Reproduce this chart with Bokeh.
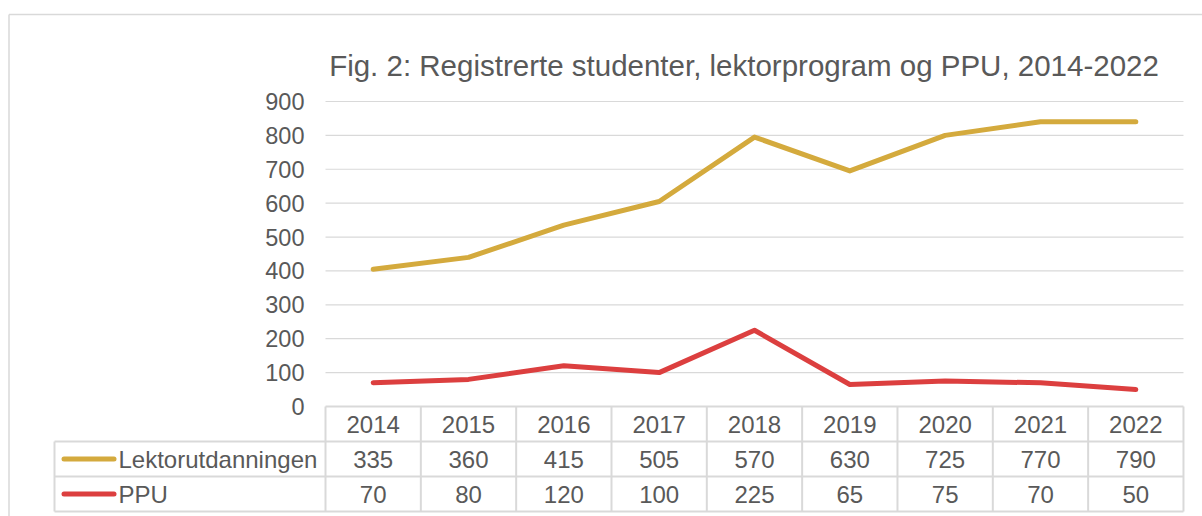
import numpy as np
from bokeh.plotting import figure
from bokeh.models import Range1d
from bokeh.core.properties import value
from bokeh.embed import file_html
from bokeh.resources import INLINE

# ---------------- data ----------------
years = ["2014", "2015", "2016", "2017", "2018", "2019", "2020", "2021", "2022"]
lektor = [335, 360, 415, 505, 570, 630, 725, 770, 790]
ppu = [70, 80, 120, 100, 225, 65, 75, 70, 50]
series_names = ["Lektorutdanningen", "PPU"]
y_ticks = [0, 100, 200, 300, 400, 500, 600, 700, 800, 900]
title_text = "Fig. 2: Registrerte studenter, lektorprogram og PPU, 2014-2022"

# ---------------- styles / layout ----------------
GOLD = "#D4AA3D"
RED = "#DC3F3F"
TXT = "#595959"
GRID = "#D9D9D9"
FONT = value("Liberation Sans")

W, H = 1202, 516
COL_PX = 95.33          # px per category column
UNIT_PX = 0.3389        # px per value unit
ORIGIN_X = 325          # canvas px of left edge of first column
ORIGIN_Y = 406          # canvas px of value 0


def dx(px):
    return (px - ORIGIN_X) / COL_PX


def dy(py):
    return (ORIGIN_Y - py) / UNIT_PX


p = figure(width=W, height=H, output_backend="svg", toolbar_location=None,
           x_range=Range1d(dx(0), dx(W)), y_range=Range1d(dy(H), dy(0)),
           x_axis_type=None, y_axis_type=None, min_border=0,
           outline_line_color=None, background_fill_color="white")
p.xgrid.visible = False
p.ygrid.visible = False

n = len(years)
xc = np.arange(n) + 0.5

# outer chart border (left and top)
p.segment(x0=[dx(8.5), dx(8.5)], y0=[dy(14), dy(14)],
          x1=[dx(W + 10), dx(8.5)], y1=[dy(14), dy(H + 10)],
          line_color=GRID, line_width=1.5)

# title
p.text(x=[dx(743.5)], y=[dy(65)], text=[title_text], text_font=FONT,
       text_font_size="29.5px", text_color=TXT, text_align="center",
       text_baseline="alphabetic")

# gridlines
gt = [t for t in y_ticks if t > 0]
p.segment(x0=[0] * len(gt), y0=gt, x1=[n] * len(gt), y1=gt,
          line_color=GRID, line_width=1.2)

# y tick labels
p.text(x=[dx(304)] * len(y_ticks), y=y_ticks, text=[str(t) for t in y_ticks],
       text_font=FONT, text_font_size="23.5px", text_color=TXT,
       text_align="right", text_baseline="middle")

# stacked lines
stacked = np.array(lektor) + np.array(ppu)
p.line(xc, stacked, line_color=GOLD, line_width=5, line_cap="round", line_join="round")
p.line(xc, ppu, line_color=RED, line_width=5, line_cap="round", line_join="round")

# ---------------- data table ----------------
r0, r1, r2, r3 = 0.0, dy(441), dy(476), dy(511)
left = dx(54)
# horizontal lines
p.segment(x0=[0, left, left, left], y0=[r0, r1, r2, r3],
          x1=[n, n, n, n], y1=[r0, r1, r2, r3], line_color=GRID, line_width=2)
# vertical lines
vx = list(range(n + 1))
p.segment(x0=vx, y0=[r0] * len(vx), x1=vx, y1=[r3] * len(vx),
          line_color=GRID, line_width=2)
p.segment(x0=[left], y0=[r1], x1=[left], y1=[r3], line_color=GRID, line_width=2)

TFS = "24px"
# header years
p.text(x=xc, y=[(r0 + r1) / 2] * n, text=years, text_font=FONT,
       text_font_size=TFS, text_color=TXT, text_align="center",
       text_baseline="middle")
# values
p.text(x=xc, y=[(r1 + r2) / 2] * n, text=[str(v) for v in lektor], text_font=FONT,
       text_font_size=TFS, text_color=TXT, text_align="center",
       text_baseline="middle")
p.text(x=xc, y=[(r2 + r3) / 2] * n, text=[str(v) for v in ppu], text_font=FONT,
       text_font_size=TFS, text_color=TXT, text_align="center",
       text_baseline="middle")

# legend keys and row labels
row_y = [(r1 + r2) / 2, (r2 + r3) / 2]
p.segment(x0=[dx(63.5)] * 2, y0=row_y, x1=[dx(113.5)] * 2, y1=row_y,
          line_color=[GOLD, RED], line_width=5, line_cap="round")
p.text(x=[dx(118)] * 2, y=row_y, text=series_names, text_font=FONT,
       text_font_size=TFS, text_color=TXT, text_align="left",
       text_baseline="middle")

open("out.html", "w").write(file_html(p, INLINE))
